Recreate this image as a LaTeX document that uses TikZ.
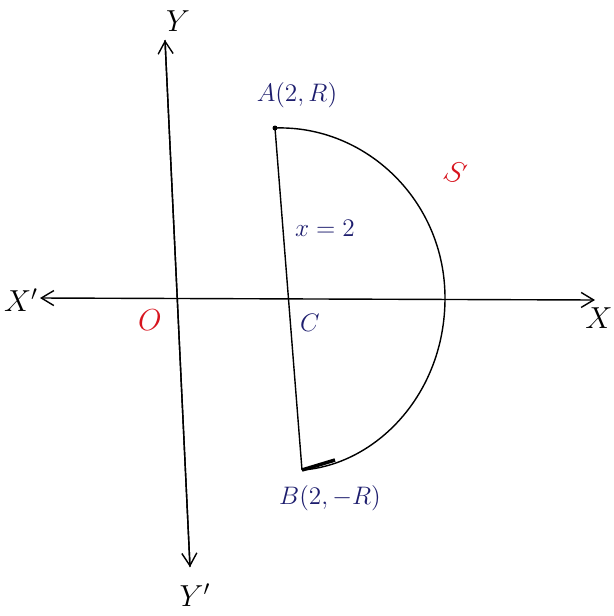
\documentclass[tikz,border=0pt]{standalone}
\usetikzlibrary{arrows.meta}
\definecolor{ink}{RGB}{30,30,110}
\definecolor{redink}{RGB}{215,20,30}
\begin{document}
\begin{tikzpicture}[>={Straight Barb[length=2.5mm,width=3mm]},
    lbl/.style={text=ink, font=\Large},
    axis/.style={thick, black}]
    \useasboundingbox (0,0) rectangle (12.28,-12.32);
    % axes
    \coordinate (ytop) at (3.30,-0.80);
    \coordinate (ybot) at (3.80,-11.34);
    \coordinate (xl) at (0.80,-5.96);
    \coordinate (xr) at (11.9,-6.0);
    \draw[axis, ->] (ybot) -- (ytop);
    \draw[axis, ->] (ytop) -- (ybot);
    \draw[axis, <->] (xl) -- (xr);
    \node[font=\LARGE] (Y) at (3.56,-0.42) {$Y$};
    \node[font=\LARGE] (Yp) at (3.90,-11.90) {$Y'$};
    \node[font=\LARGE] (Xp) at (0.42,-6.0) {$X'$};
    \node[font=\LARGE] (X) at (11.98,-6.36) {$X$};
    \node[text=redink, font=\LARGE] (O) at (3.00,-6.40) {$O$};
    % region S
    \coordinate (A) at (5.50,-2.56);
    \coordinate (B) at (6.04,-9.40);
    \coordinate (E) at (8.90,-5.96);
    \fill (A) circle (0.05);
    \draw[thick] (A) -- (B);
    \draw[thick] (A) .. controls (7.3,-2.5) and (8.9,-4.0) .. (E)
        .. controls (8.9,-7.9) and (7.5,-9.3) .. (B);
    \draw[line width=2pt] (B) -- (6.7,-9.2);
    \node[lbl] (Alab) at (5.94,-1.90) {$A(2,R)$};
    \node[lbl] (Blab) at (6.60,-9.96) {$B(2,-R)$};
    \node[lbl] (Clab) at (6.20,-6.46) {$C$};
    \node[lbl] (line) at (6.50,-4.56) {$x=2$};
    \node[text=redink, font=\LARGE\bfseries, rotate=-20] (S) at (9.10,-3.44) {$S$};
\end{tikzpicture}
\end{document}
